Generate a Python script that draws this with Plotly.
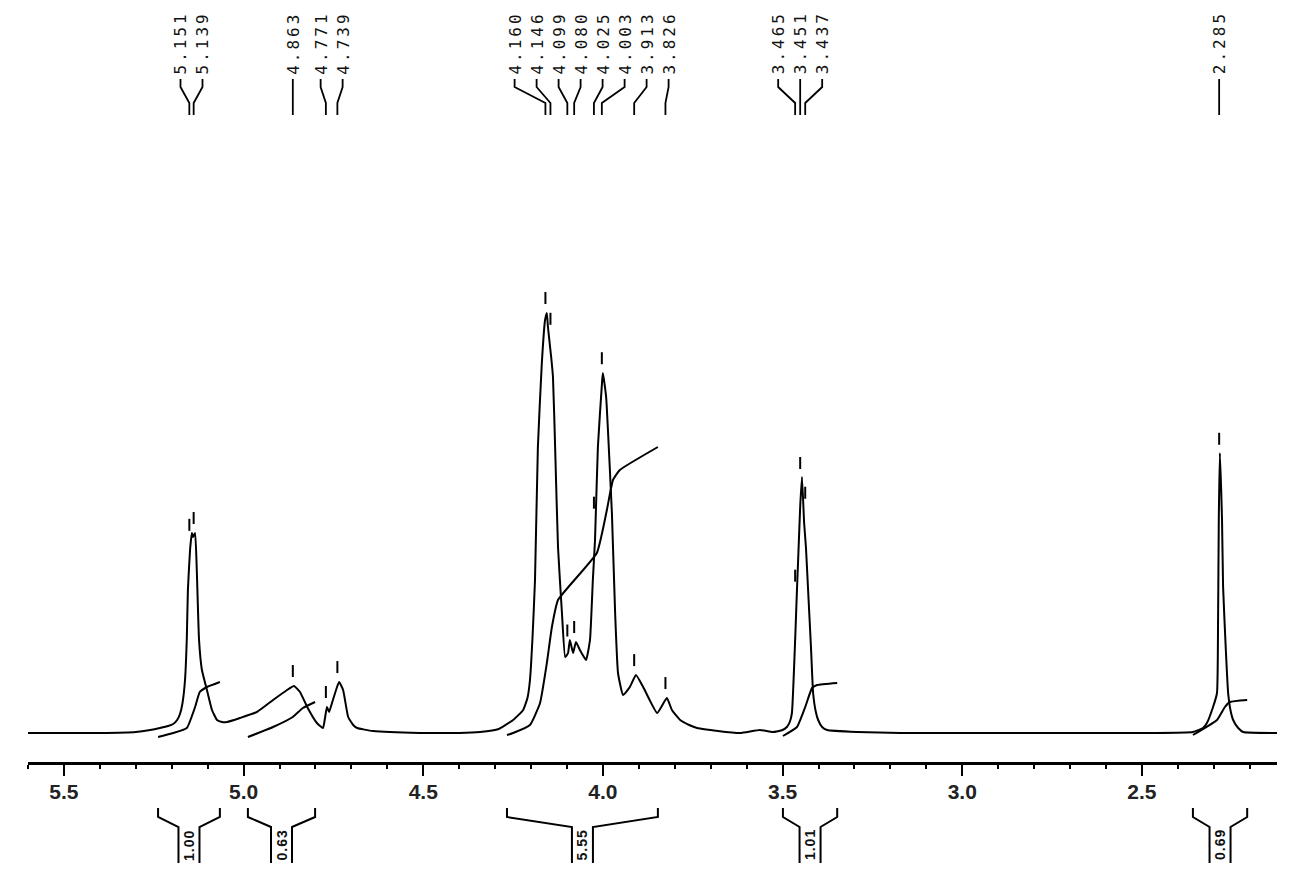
import numpy as np
import plotly.graph_objects as go

# ---------------- data ----------------
# 1H NMR trace (chemical shift in ppm, relative intensity)
spec_ppm = [5.600, 5.400, 5.300, 5.260, 5.233, 5.210, 5.196, 5.185, 5.177, 5.170, 5.163, 5.158,
            5.155, 5.149, 5.144, 5.141, 5.135, 5.130, 5.124, 5.116, 5.102, 5.088, 5.074, 5.060,
            5.046, 5.010, 4.963, 4.918, 4.879, 4.860, 4.843, 4.823, 4.796, 4.779, 4.773, 4.768,
            4.762, 4.754, 4.740, 4.734, 4.723, 4.709, 4.695, 4.684, 4.640, 4.509, 4.400, 4.342,
            4.290, 4.250, 4.222, 4.210, 4.203, 4.196, 4.189, 4.181, 4.170, 4.161, 4.156,
            4.153, 4.144, 4.139, 4.133, 4.125, 4.114, 4.105, 4.097, 4.092, 4.083, 4.075, 4.064,
            4.047, 4.036, 4.028, 4.022, 4.014, 4.002, 4.000, 3.991, 3.986, 3.975, 3.966, 3.958,
            3.944, 3.925, 3.908, 3.888, 3.849, 3.822, 3.808, 3.785, 3.760, 3.738, 3.680, 3.618,
            3.563, 3.527, 3.500, 3.488, 3.480, 3.474, 3.465, 3.460, 3.457, 3.451, 3.446, 3.440,
            3.435, 3.429, 3.421, 3.415, 3.408, 3.401, 3.390, 3.376, 3.293, 3.173, 2.895, 2.477,
            2.358, 2.330, 2.319, 2.302, 2.291, 2.288, 2.286, 2.283, 2.277, 2.274, 2.266, 2.260,
            2.253, 2.246, 2.232, 2.218, 2.124]
spec_int = [0, 0, 1, 3, 5, 7, 9, 13, 19, 30, 53, 95,
            143, 183, 200, 196, 200, 160, 93, 63, 43, 23, 13, 11,
            11, 15, 21, 33, 43, 47, 41, 26, 10, 5, 16, 26,
            21, 30, 46, 51, 43, 16, 8, 5, 2, 0, 0, 1,
            4, 13, 23, 35, 53, 95, 153, 286, 370, 413, 420,
            406, 376, 356, 286, 186, 120, 76, 80, 93, 80, 91, 83,
            73, 93, 153, 193, 286, 353, 360, 336, 303, 220, 120, 60,
            38, 46, 58, 46, 20, 35, 23, 13, 8, 5, 2, 0,
            3, 1, 3, 6, 11, 20, 93, 143, 170, 226, 256, 210,
            186, 143, 86, 40, 22, 13, 6, 3, 1, 0, 0, 0,
            1, 5, 10, 26, 40, 113, 213, 280, 213, 146, 80, 40,
            22, 13, 5, 1, 0]

# picked peaks
peak_ppm = [5.151, 5.139, 4.863, 4.771, 4.739, 4.160, 4.146, 4.099, 4.080,
            4.025, 4.003, 3.913, 3.826, 3.465, 3.451, 3.437, 2.285]

# integral curves (ppm, running integral in intensity units)
int1_ppm = [5.238, 5.196, 5.158, 5.135, 5.122, 5.102, 5.066]
int1_val = [-4, 0, 5, 26, 41, 46, 51]
int2_ppm = [4.988, 4.918, 4.863, 4.835, 4.801]
int2_val = [-4, 6, 16, 25, 31]
int3_ppm = [4.267, 4.250, 4.203, 4.175, 4.156, 4.142, 4.125, 4.017, 3.989, 3.972, 3.953, 3.847]
int3_val = [-2, 0, 8, 30, 70, 106, 133, 180, 223, 253, 263, 286]
int4_ppm = [3.499, 3.460, 3.437, 3.418, 3.404, 3.348]
int4_val = [-3, 6, 26, 45, 48, 50]
int5_ppm = [2.358, 2.291, 2.269, 2.255, 2.207]
int5_val = [-2, 13, 26, 31, 33]
int_labels = ["1.00", "0.63", "5.55", "1.01", "0.69"]

x_major_ticks = [5.5, 5.0, 4.5, 4.0, 3.5, 3.0, 2.5]

# ---------------- layout constants ----------------
W, H = 1312, 882
ML, MR, MT, MB = 28, 35, 0, 120
X_RANGE = [5.6, 2.124]
Y_RANGE = [-29, 733]
PLOT_W = W - ML - MR
PLOT_H = H - MT - MB
PX_PER_PPM = PLOT_W / (X_RANGE[0] - X_RANGE[1])
PX_PER_Y = PLOT_H / (Y_RANGE[1] - Y_RANGE[0])


def ydata(px):
    """pixel row -> y data value"""
    return Y_RANGE[1] - (px - MT) / PX_PER_Y


def ypaper(px):
    return (MT + PLOT_H - px) / PLOT_H


fig = go.Figure()

line_style = dict(color="black", width=2, shape="spline", smoothing=0.4)
fig.add_trace(go.Scatter(x=spec_ppm, y=spec_int, mode="lines", line=line_style,
                         hoverinfo="skip", showlegend=False))

curves = [(int1_ppm, int1_val), (int2_ppm, int2_val), (int3_ppm, int3_val),
          (int4_ppm, int4_val), (int5_ppm, int5_val)]
for px_, vy in curves:
    fig.add_trace(go.Scatter(x=px_, y=vy, mode="lines", line=line_style,
                             hoverinfo="skip", showlegend=False))

shapes = []
annotations = []

# ---- peak pick marks above the peaks ----
fine = np.linspace(X_RANGE[1], X_RANGE[0], 20000)
fine_int = np.interp(fine, spec_ppm[::-1], spec_int[::-1])
for p in peak_ppm:
    m = np.abs(fine - p) < 0.005
    top = fine_int[m].max()
    shapes.append(dict(type="line", xref="x", yref="y", x0=p, x1=p,
                       y0=top + 9, y1=top + 21, line=dict(color="black", width=2)))

# ---- peak labels spread over the top ----
gap_px = 22.0
us = [(X_RANGE[0] - p) * PX_PER_PPM for p in peak_ppm]
clusters = []
for u in us:
    clusters.append([[u], u])
    while len(clusters) > 1:
        a, b = clusters[-2], clusters[-1]
        a_end = a[1] + (len(a[0]) - 1) * gap_px / 2
        b_start = b[1] - (len(b[0]) - 1) * gap_px / 2
        if b_start - a_end < gap_px:
            mem = a[0] + b[0]
            clusters[-2:] = [[mem, sum(mem) / len(mem)]]
        else:
            break
label_u = []
for mem, c in clusters:
    n = len(mem)
    label_u += [c + (i - (n - 1) / 2) * gap_px for i in range(n)]
label_ppm = [X_RANGE[0] - u / PX_PER_PPM for u in label_u]

for p, lp in zip(peak_ppm, label_ppm):
    path = (f"M {lp},{ydata(79)} L {lp},{ydata(87)} "
            f"L {p},{ydata(103)} L {p},{ydata(115)}")
    shapes.append(dict(type="path", xref="x", yref="y", path=path,
                       line=dict(color="black", width=1.8)))
    annotations.append(dict(
        x=lp, y=ydata(43), xref="x", yref="y", showarrow=False,
        text=f'<span style="letter-spacing:3px">{p:.3f}</span>',
        textangle=-90, xanchor="center", yanchor="middle",
        font=dict(family="DejaVu Sans Mono", size=16, color="#111")))

# ---- integration brackets under the axis ----
half_gap = 10.5 / PX_PER_PPM
for (px_, vy), lab in zip(curves, int_labels):
    a, b = px_[0], px_[-1]
    c = (a + b) / 2
    il, ir = c + half_gap, c - half_gap
    path = (f"M {a},{ypaper(808)} L {a},{ypaper(817)} L {il},{ypaper(827)} L {il},{ypaper(863)} "
            f"M {ir},{ypaper(863)} L {ir},{ypaper(827)} L {b},{ypaper(817)} L {b},{ypaper(808)}")
    shapes.append(dict(type="path", xref="x", yref="paper", path=path,
                       line=dict(color="black", width=2)))
    annotations.append(dict(
        x=c, y=ypaper(845), xref="x", yref="paper", showarrow=False,
        text=f'<span style="letter-spacing:1px">{lab}</span>',
        textangle=-90, xanchor="center", yanchor="middle",
        font=dict(family="Liberation Sans", size=14, color="#111", weight="bold")))

fig.update_layout(
    width=W, height=H,
    margin=dict(l=ML, r=MR, t=MT, b=MB, pad=0),
    paper_bgcolor="white", plot_bgcolor="white",
    shapes=shapes, annotations=annotations,
    xaxis=dict(
        range=X_RANGE, showgrid=False, zeroline=False,
        showline=True, linecolor="black", linewidth=2.5,
        ticks="outside", ticklen=11, tickwidth=2, tickcolor="black",
        tickmode="array", tickvals=x_major_ticks,
        ticktext=[f"{v:.1f}" for v in x_major_ticks],
        tickfont=dict(family="Liberation Sans", size=21, color="#222", weight="bold"),
        ticklabelstandoff=-2,
        minor=dict(tickmode="linear", tick0=0, dtick=0.1, ticks="outside",
                   ticklen=4, tickwidth=2, tickcolor="black", showgrid=False),
    ),
    yaxis=dict(range=Y_RANGE, visible=False, showgrid=False, zeroline=False),
)

fig.write_html("out.html", config={"displayModeBar": False},
               post_script="document.body.style.margin='0';document.body.style.padding='0';")
